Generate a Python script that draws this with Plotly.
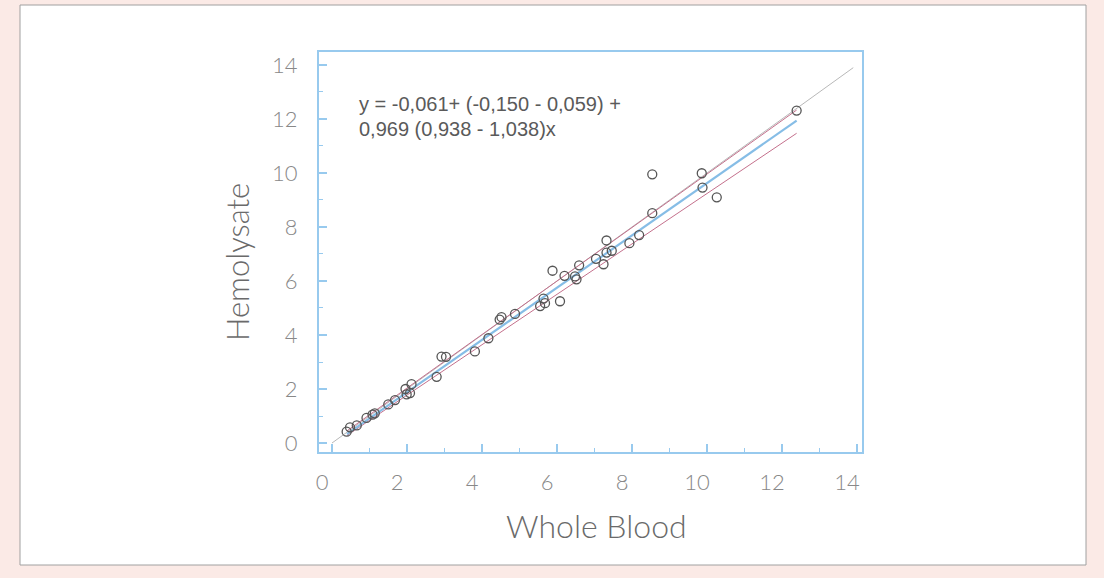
import plotly.graph_objects as go

# Data
whole_blood = [0.39, 0.48, 0.66, 0.92, 1.08, 1.14, 1.50, 1.68, 1.96, 1.99, 2.08, 2.12,
               2.79, 2.92, 3.04, 3.81, 4.17, 4.47, 4.52, 4.88, 5.55, 5.64, 5.68, 6.08,
               5.88, 6.20, 6.48, 6.52, 6.59, 7.04, 7.24, 7.32, 7.32, 7.46, 7.93, 8.19,
               8.54, 8.54, 9.86, 9.88, 10.26, 12.39]
hemolysate = [0.42, 0.58, 0.65, 0.93, 1.05, 1.10, 1.43, 1.59, 2.00, 1.80, 1.85, 2.18,
              2.45, 3.20, 3.19, 3.39, 3.88, 4.57, 4.66, 4.78, 5.07, 5.35, 5.18, 5.25,
              6.38, 6.19, 6.17, 6.06, 6.58, 6.82, 6.62, 7.50, 7.05, 7.12, 7.40, 7.70,
              8.51, 9.95, 9.99, 9.46, 9.10, 12.31]

identity_x = [0, 13.9]
identity_y = [0, 13.9]
fit_x = [0.40, 12.39]
fit_y = [0.33, 11.94]
upper_x = [0.40, 12.39]
upper_y = [0.45, 12.33]
lower_x = [0.40, 12.39]
lower_y = [0.28, 11.47]

eq_line1 = "y = -0,061+ (-0,150 - 0,059) +"
eq_line2 = "0,969 (0,938 - 1,038)x"
x_title = "Whole Blood"
y_title = "Hemolysate"
tick_vals = [0, 2, 4, 6, 8, 10, 12, 14]

W, H = 1104, 578
L, R, T, B = 319, 862, 52, 452

fig = go.Figure()
fig.add_trace(go.Scatter(x=identity_x, y=identity_y, mode="lines",
                         line=dict(color="#b8b8b8", width=1), hoverinfo="skip"))
fig.add_trace(go.Scatter(x=upper_x, y=upper_y, mode="lines",
                         line=dict(color="#c4708c", width=1), hoverinfo="skip"))
fig.add_trace(go.Scatter(x=lower_x, y=lower_y, mode="lines",
                         line=dict(color="#c4708c", width=1), hoverinfo="skip"))
fig.add_trace(go.Scatter(x=fit_x, y=fit_y, mode="lines",
                         line=dict(color="#86bde6", width=2.2), hoverinfo="skip"))
fig.add_trace(go.Scatter(x=whole_blood, y=hemolysate, mode="markers",
                         marker=dict(symbol="circle-open", size=9, color="#555555",
                                     line=dict(width=1.3, color="#555555"))))

tick_font = dict(family="Lato, 'Open Sans', sans-serif", size=22, color="#888888", weight=300)
axis_common = dict(
    showgrid=False, zeroline=False, showline=True, mirror=True,
    linecolor="#98caee", linewidth=2,
    ticks="inside", ticklen=8, tickwidth=1.5, tickcolor="#98caee",
    tickvals=tick_vals, tickfont=tick_font,
    minor=dict(ticks="inside", ticklen=4, dtick=1, tickcolor="#98caee", tickwidth=1),
)

fig.update_layout(
    width=W, height=H,
    margin=dict(l=L, r=W - R, t=T, b=H - B),
    paper_bgcolor="#fbeae6",
    plot_bgcolor="white",
    showlegend=False,
    xaxis=dict(range=[-0.347, 14.133], ticklabelstandoff=10, ticklabelshift=-10, **axis_common),
    yaxis=dict(range=[-0.333, 14.48], ticklabelstandoff=15, **axis_common),
    shapes=[dict(type="rect", xref="paper", yref="paper", layer="below",
                 x0=(20 - L) / (R - L), x1=(1086 - L) / (R - L),
                 y0=(B - 565) / (B - T), y1=(B - 5) / (B - T),
                 fillcolor="white", line=dict(color="#a0a0a0", width=1))],
    annotations=[
        dict(text=x_title, xref="paper", yref="paper", x=0.5, y=0, xshift=6, yshift=-73,
             showarrow=False, xanchor="center", yanchor="middle",
             font=dict(family="Lato, sans-serif", size=32, color="#6a6a6a", weight=300)),
        dict(text=y_title, xref="paper", yref="paper", x=0, y=0.5, xshift=-82, yshift=-10,
             showarrow=False, xanchor="center", yanchor="middle", textangle=-90,
             font=dict(family="Lato, sans-serif", size=31, color="#6a6a6a", weight=300)),
        dict(text=eq_line1, xref="paper", yref="paper", x=(357 - L) / (R - L),
             y=(B - 104) / (B - T), showarrow=False, xanchor="left", yanchor="middle",
             font=dict(family="Liberation Sans, Arial, sans-serif", size=20, color="#5a5a5a")),
        dict(text=eq_line2, xref="paper", yref="paper", x=(357 - L) / (R - L),
             y=(B - 129) / (B - T), showarrow=False, xanchor="left", yanchor="middle",
             font=dict(family="Liberation Sans, Arial, sans-serif", size=20, color="#5a5a5a")),
    ],
)

fig.write_html("out.html")
